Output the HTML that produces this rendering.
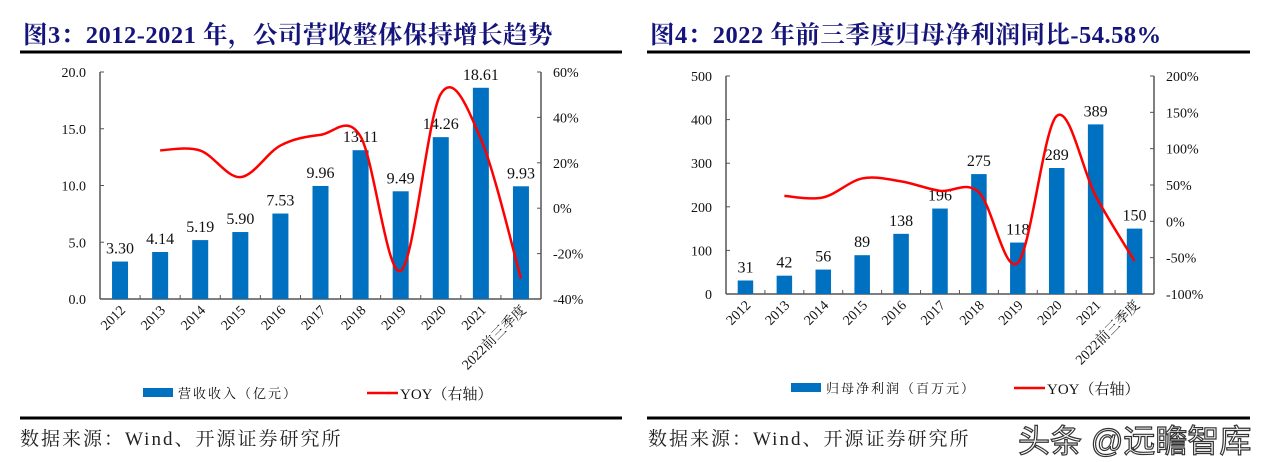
<!DOCTYPE html>
<html><head><meta charset="utf-8"><style>
body{margin:0;background:#fff;width:1264px;height:460px;overflow:hidden;position:relative;font-family:"Liberation Serif","Noto Serif CJK SC",serif}
.title{position:absolute;top:16px;font-weight:bold;font-size:24.5px;color:#14147a;white-space:nowrap;letter-spacing:0.5px}
.src{position:absolute;top:424px;font-size:19px;color:#222;white-space:nowrap;letter-spacing:2px;font-family:"Liberation Serif","Noto Serif CJK SC",serif}
.wm{position:absolute;left:1018px;top:416px;font-size:32px;color:#fff;-webkit-text-stroke:1.2px #333;font-family:"Liberation Sans","Noto Sans CJK SC",sans-serif;white-space:nowrap}
</style></head><body>
<div class="title" style="left:23px">图3：2012-2021 年，公司营收整体保持增长趋势</div>
<div class="title" style="left:650px">图4：2022 年前三季度归母净利润同比-54.58%</div>
<div class="src" style="left:20px">数据来源：Wind、开源证券研究所</div>
<div class="src" style="left:648px">数据来源：Wind、开源证券研究所</div>
<svg id="svg" width="1264" height="460" style="position:absolute;left:0;top:0">
<line x1="20" y1="52" x2="622" y2="52" stroke="#000" stroke-width="3"/>
<line x1="20" y1="418" x2="622" y2="418" stroke="#000" stroke-width="3"/>
<line x1="647" y1="52" x2="1250" y2="52" stroke="#000" stroke-width="3"/>
<line x1="647" y1="418" x2="1250" y2="418" stroke="#000" stroke-width="3"/>
</svg>
<div class="wm">头条 @远瞻智库</div>
<script>
const categories=["2012","2013","2014","2015","2016","2017","2018","2019","2020","2021","2022前三季度"];
const revenue=[3.30,4.14,5.19,5.90,7.53,9.96,13.11,9.49,14.26,18.61,9.93];
const revenueLabels=["3.30","4.14","5.19","5.90","7.53","9.96","13.11","9.49","14.26","18.61","9.93"];
const revenueYoy=[null,25.5,25.4,13.7,27.6,32.3,31.6,-27.6,50.3,30.5,-31.0];
const leftTicks1=["0.0","5.0","10.0","15.0","20.0"];
const rightTicks1=["-40%","-20%","0%","20%","40%","60%"];
const profit=[31,42,56,89,138,196,275,118,289,389,150];
const profitYoy=[null,35,33,59,55,42,40,-57,145,35,-54.58];
const leftTicks2=["0","100","200","300","400","500"];
const rightTicks2=["-100%","-50%","0%","50%","100%","150%","200%"];
const NS="http://www.w3.org/2000/svg";
const svg=document.getElementById('svg');
function mk(t,a,p){const e=document.createElementNS(NS,t);for(const k in a)e.setAttribute(k,a[k]);(p||svg).appendChild(e);return e;}
function draw(o){
  const n=o.cats.length, cw=(o.x1-o.x0)/n;
  const yL=v=>o.yb-(v-o.lmin)/(o.lmax-o.lmin)*(o.yb-o.yt);
  const yR=v=>o.yb-(v-o.rmin)/(o.rmax-o.rmin)*(o.yb-o.yt);
  const xc=i=>o.x0+cw*(i+0.5);
  let l=mk('line',{x1:o.x0,y1:o.yt,x2:o.x0,y2:o.yb,stroke:'#555','stroke-width':1.5});
  
  l=mk('line',{x1:o.x1,y1:o.yt,x2:o.x1,y2:o.yb,stroke:'#555','stroke-width':1.5});
  
  l=mk('line',{x1:o.x0,y1:o.yb,x2:o.x1,y2:o.yb,stroke:'#555','stroke-width':1.5});
  
  o.lt.forEach((t,i)=>{const v=o.lmin+i*(o.lmax-o.lmin)/(o.lt.length-1);const y=yL(v);
    mk('line',{x1:o.x0,y1:y,x2:o.x0+4,y2:y,stroke:'#555'});
    const e=mk('text',{x:o.x0-14,y:y+5,'text-anchor':'end','font-size':14,fill:'#111'});e.textContent=t;
    });
  o.rt.forEach((t,i)=>{const v=o.rmin+i*(o.rmax-o.rmin)/(o.rt.length-1);const y=yR(v);
    mk('line',{x1:o.x1-4,y1:y,x2:o.x1,y2:y,stroke:'#555'});
    const e=mk('text',{x:o.x1+12,y:y+5,'font-size':14,fill:'#111'});e.textContent=t;
    });
  for(let i=0;i<=n;i++)mk('line',{x1:o.x0+cw*i,y1:o.yb,x2:o.x0+cw*i,y2:o.yb-4,stroke:'#555'});
  o.cats.forEach((c,i)=>{
    const b=mk('rect',{x:xc(i)-o.bw/2,y:yL(o.vals[i]),width:o.bw,height:o.yb-yL(o.vals[i]),fill:'#0070c0'});
    
    const t=mk('text',{x:xc(i),y:yL(o.vals[i])-8,'text-anchor':'middle','font-size':16,fill:'#111'});t.textContent=o.labels[i];
    
    const xl=mk('text',{x:0,y:0,'text-anchor':'end','font-size':14,fill:'#111',transform:`translate(${xc(i)+6},${o.yb+12}) rotate(-45)`});xl.textContent=c;
    
  });
  const pts=[];o.yoy.forEach((v,i)=>{if(v!==null)pts.push([xc(i),yR(v)]);});
  let d='M'+pts[0][0]+','+pts[0][1];
  for(let i=0;i<pts.length-1;i++){const p0=pts[Math.max(0,i-1)],p1=pts[i],p2=pts[i+1],p3=pts[Math.min(pts.length-1,i+2)];
    d+=` C${p1[0]+(p2[0]-p0[0])/6},${p1[1]+(p2[1]-p0[1])/6} ${p2[0]-(p3[0]-p1[0])/6},${p2[1]-(p3[1]-p1[1])/6} ${p2[0]},${p2[1]}`;}
  const pl=mk('path',{d:d,fill:'none',stroke:'#ff0000','stroke-width':2.5});
  
  const lr=mk('rect',{x:o.lg[0],y:o.lg[2]-5,width:30,height:9,fill:'#0070c0'});
  
  let lt=mk('text',{x:o.lg[0]+35,y:o.lg[2]+5,'font-size':13,fill:'#111','letter-spacing':'2'});lt.textContent=o.lgText;
  
  mk('line',{x1:o.lg[1],y1:o.lg[2],x2:o.lg[1]+31,y2:o.lg[2],stroke:'#ff0000','stroke-width':2.5});
  lt=mk('text',{x:o.lg[1]+33,y:o.lg[2]+6,'font-size':15,fill:'#111'});lt.textContent='YOY（右轴）';
  
}
draw({cats:categories,vals:revenue,labels:revenueLabels,yoy:revenueYoy,x0:100,x1:541,yt:72,yb:299,lmin:0,lmax:20,rmin:-40,rmax:60,lt:leftTicks1,rt:rightTicks1,bw:16,lg:[143,367,393],lgText:'营收收入（亿元）'});
draw({cats:categories,vals:profit,labels:profit.map(String),yoy:profitYoy,x0:726,x1:1154,yt:76,yb:294,lmin:0,lmax:500,rmin:-100,rmax:200,lt:leftTicks2,rt:rightTicks2,bw:15.5,lg:[791,1014,388],lgText:'归母净利润（百万元）'});
</script>
</body></html>
